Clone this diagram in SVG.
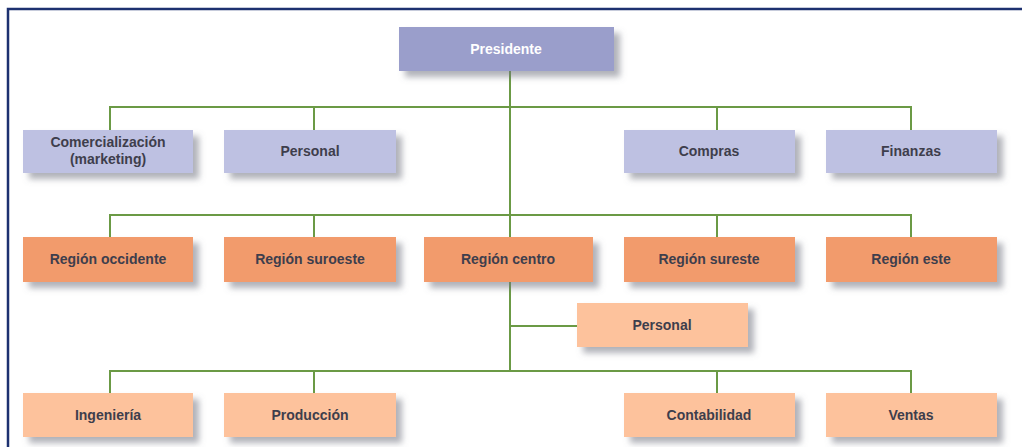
<svg xmlns="http://www.w3.org/2000/svg" width="1022" height="447" viewBox="0 0 1022 447">
  <defs>
    <filter id="shadow" x="-10%" y="-30%" width="125%" height="170%">
      <feDropShadow dx="6" dy="6" stdDeviation="3" flood-color="#6f7280" flood-opacity="0.55"/>
    </filter>
  </defs>
  <style>
    .box { filter: url(#shadow); }
    .top { fill: #9a9ecb; }
    .staff { fill: #bec1e2; }
    .region { fill: #f29b6c; }
    .unit { fill: #fdc29c; }
    .lbl { font-family: "Liberation Sans", Arial, sans-serif; font-size: 14px; font-weight: bold; fill: #3e3e4c; text-anchor: middle; }
    .lbl-w { fill: #ffffff; }
    .link { fill: none; stroke: #6b9a45; stroke-width: 2; }
    .frame { fill: none; stroke: #1d3170; stroke-width: 2.5; }
  </style>

  <rect width="1022" height="447" fill="#ffffff"/>
  <path class="frame" d="M8,447 V9 H1022"/>

  <!-- connectors -->
  <g id="connectors">
    <path class="link" d="M510,71 V237"/>
    <path class="link" d="M110,130 V107 H911 V130 M314,107 V130 M717,107 V130"/>
    <path class="link" d="M110,237 V215 H911 V237 M314,215 V237 M717,215 V237"/>
    <path class="link" d="M510,282 V371 M510,326 H577"/>
    <path class="link" d="M110,393 V371 H911 V393 M314,371 V393 M717,371 V393"/>
  </g>

  <!-- top -->
  <g id="presidente">
    <rect class="box top" x="399" y="27" width="215" height="44"/>
    <text class="lbl lbl-w" x="506" y="54">Presidente</text>
  </g>

  <!-- staff row -->
  <g id="comercializacion">
    <rect class="box staff" x="23" y="130" width="170" height="43"/>
    <text class="lbl" x="108" y="147">Comercialización</text>
    <text class="lbl" x="108" y="164">(marketing)</text>
  </g>
  <g id="personal-staff">
    <rect class="box staff" x="224" y="130" width="172" height="43"/>
    <text class="lbl" x="310" y="156">Personal</text>
  </g>
  <g id="compras">
    <rect class="box staff" x="624" y="130" width="171" height="43"/>
    <text class="lbl" x="709" y="156">Compras</text>
  </g>
  <g id="finanzas">
    <rect class="box staff" x="826" y="130" width="171" height="43"/>
    <text class="lbl" x="911" y="156">Finanzas</text>
  </g>

  <!-- regions -->
  <g id="region-occidente">
    <rect class="box region" x="23" y="237" width="170" height="45"/>
    <text class="lbl" x="108" y="264">Región occidente</text>
  </g>
  <g id="region-suroeste">
    <rect class="box region" x="224" y="237" width="172" height="45"/>
    <text class="lbl" x="310" y="264">Región suroeste</text>
  </g>
  <g id="region-centro">
    <rect class="box region" x="424" y="237" width="169" height="45"/>
    <text class="lbl" x="508" y="264">Región centro</text>
  </g>
  <g id="region-sureste">
    <rect class="box region" x="624" y="237" width="171" height="45"/>
    <text class="lbl" x="709" y="264">Región sureste</text>
  </g>
  <g id="region-este">
    <rect class="box region" x="826" y="237" width="171" height="45"/>
    <text class="lbl" x="911" y="264">Región este</text>
  </g>

  <!-- centro units -->
  <g id="personal-centro">
    <rect class="box unit" x="577" y="303" width="171" height="44"/>
    <text class="lbl" x="662" y="330">Personal</text>
  </g>
  <g id="ingenieria">
    <rect class="box unit" x="23" y="393" width="170" height="44"/>
    <text class="lbl" x="108" y="420">Ingeniería</text>
  </g>
  <g id="produccion">
    <rect class="box unit" x="224" y="393" width="172" height="44"/>
    <text class="lbl" x="310" y="420">Producción</text>
  </g>
  <g id="contabilidad">
    <rect class="box unit" x="624" y="393" width="171" height="44"/>
    <text class="lbl" x="709" y="420">Contabilidad</text>
  </g>
  <g id="ventas">
    <rect class="box unit" x="826" y="393" width="171" height="44"/>
    <text class="lbl" x="911" y="420">Ventas</text>
  </g>
</svg>
